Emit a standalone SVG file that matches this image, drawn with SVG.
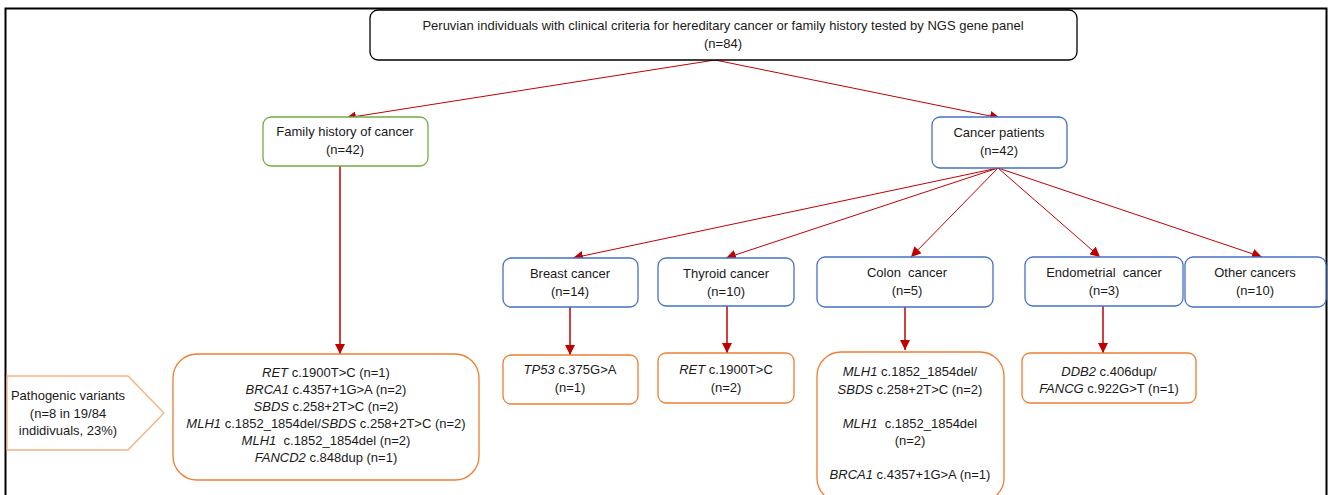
<svg xmlns="http://www.w3.org/2000/svg" width="1328" height="495" viewBox="0 0 1328 495">
<defs>
<marker id="ah" viewBox="0 0 10 10" refX="10" refY="5" markerWidth="10" markerHeight="10" markerUnits="userSpaceOnUse" orient="auto">
<path d="M0,0 L10,5 L0,10 z" fill="#C00000"/>
</marker>
<marker id="ahv" viewBox="0 0 10 10" refX="10" refY="5" markerWidth="7" markerHeight="7" orient="auto">
<path d="M0,0 L10,5 L0,10 z" fill="#C00000"/>
</marker>
</defs>
<style>
text{font-family:"Liberation Sans",Arial,sans-serif;font-size:13px;fill:#1a1a1a;text-anchor:middle}
.i{font-style:italic}
.blk{fill:#fff;stroke:#000;stroke-width:1.3}
.grn{fill:#fff;stroke:#70AD47;stroke-width:1.3}
.blu{fill:#fff;stroke:#4472C4;stroke-width:1.3}
.org{fill:#fff;stroke:#ED7D31;stroke-width:1.3}
.c{stroke:#C00000;stroke-width:1;fill:none}
.v{stroke:#C00000;stroke-width:1.5;fill:none}
</style>
<rect x="0" y="0" width="1328" height="495" fill="#fff"/>
<path d="M5.5,495 V8.5 H1326.5 V495" fill="none" stroke="#000" stroke-width="2"/>
<g id="connectors">
<line class="c" x1="715" y1="60" x2="346" y2="118" marker-end="url(#ah)"/>
<line class="c" x1="715" y1="60" x2="1000" y2="118" marker-end="url(#ah)"/>
<line class="v" x1="340" y1="166" x2="340" y2="354" marker-end="url(#ahv)"/>
<line class="c" x1="998" y1="168" x2="573" y2="258" marker-end="url(#ah)"/>
<line class="c" x1="998" y1="168" x2="726" y2="258" marker-end="url(#ah)"/>
<line class="c" x1="998" y1="168" x2="911" y2="257" marker-end="url(#ah)"/>
<line class="c" x1="998" y1="168" x2="1100" y2="257" marker-end="url(#ah)"/>
<line class="c" x1="998" y1="168" x2="1262" y2="257" marker-end="url(#ah)"/>
<line class="v" x1="570" y1="307" x2="570" y2="355" marker-end="url(#ahv)"/>
<line class="v" x1="727" y1="306" x2="727" y2="353" marker-end="url(#ahv)"/>
<line class="v" x1="905" y1="307" x2="905" y2="350" marker-end="url(#ahv)"/>
<line class="v" x1="1103" y1="306" x2="1103" y2="353" marker-end="url(#ahv)"/>
</g>
<g id="root">
<rect class="blk" x="370" y="10" width="707" height="50" rx="8"/>
<text x="723" y="30">Peruvian individuals with clinical criteria for hereditary cancer or family history tested by NGS gene panel</text>
<text x="723" y="48">(n=84)</text>
</g>
<g id="family">
<rect class="grn" x="263" y="117" width="165" height="49" rx="8"/>
<text x="345" y="136">Family history of cancer</text>
<text x="345" y="154">(n=42)</text>
</g>
<g id="patients">
<rect class="blu" x="932" y="117" width="135" height="51" rx="8"/>
<text x="999" y="137">Cancer patients</text>
<text x="999" y="155">(n=42)</text>
</g>
<g id="breast">
<rect class="blu" x="503" y="258" width="135" height="49" rx="8"/>
<text x="570" y="278">Breast cancer</text>
<text x="570" y="296">(n=14)</text>
</g>
<g id="thyroid">
<rect class="blu" x="658" y="258" width="136" height="48" rx="8"/>
<text x="726" y="278">Thyroid cancer</text>
<text x="726" y="296">(n=10)</text>
</g>
<g id="colon">
<rect class="blu" x="817" y="257" width="176" height="50" rx="8"/>
<text x="907" y="277">Colon&#160; cancer</text>
<text x="907" y="295">(n=5)</text>
</g>
<g id="endometrial">
<rect class="blu" x="1025" y="257" width="158" height="49" rx="8"/>
<text x="1104" y="277">Endometrial&#160; cancer</text>
<text x="1104" y="295">(n=3)</text>
</g>
<g id="other">
<rect class="blu" x="1185" y="257" width="141" height="50" rx="8"/>
<text x="1255" y="277">Other cancers</text>
<text x="1255" y="295">(n=10)</text>
</g>
<g id="pathogenic">
<polygon points="7,376 128,376 164,413 128,450 7,450" fill="#fff" stroke="#F4B183" stroke-width="1.3"/>
<text x="68" y="400">Pathogenic variants</text>
<text x="68" y="418">(n=8 in 19/84</text>
<text x="68" y="435">indidivuals, 23%)</text>
</g>
<g id="family-variants">
<rect class="org" x="173" y="354" width="306" height="126" rx="24"/>
<text x="326" y="377"><tspan class="i">RET</tspan> c.1900T&gt;C (n=1)</text>
<text x="326" y="394"><tspan class="i">BRCA1</tspan> c.4357+1G&gt;A (n=2)</text>
<text x="326" y="411"><tspan class="i">SBDS</tspan> c.258+2T&gt;C (n=2)</text>
<text x="326" y="428"><tspan class="i">MLH1</tspan> c.1852_1854del/<tspan class="i">SBDS</tspan> c.258+2T&gt;C (n=2)</text>
<text x="326" y="445"><tspan class="i">MLH1</tspan>&#160; c.1852_1854del (n=2)</text>
<text x="326" y="462"><tspan class="i">FANCD2</tspan> c.848dup (n=1)</text>
</g>
<g id="breast-variants">
<rect class="org" x="503" y="355" width="135" height="49" rx="8"/>
<text x="570" y="374"><tspan class="i">TP53</tspan> c.375G&gt;A</text>
<text x="570" y="392">(n=1)</text>
</g>
<g id="thyroid-variants">
<rect class="org" x="658" y="353" width="136" height="50" rx="8"/>
<text x="726" y="374"><tspan class="i">RET</tspan> c.1900T&gt;C</text>
<text x="726" y="392">(n=2)</text>
</g>
<g id="colon-variants">
<rect class="org" x="817" y="352" width="187" height="150" rx="24"/>
<text x="910" y="376"><tspan class="i">MLH1</tspan> c.1852_1854del/</text>
<text x="910" y="394"><tspan class="i">SBDS</tspan> c.258+2T&gt;C (n=2)</text>
<text x="910" y="428"><tspan class="i">MLH1</tspan>&#160; c.1852_1854del</text>
<text x="910" y="445">(n=2)</text>
<text x="910" y="479"><tspan class="i">BRCA1</tspan> c.4357+1G&gt;A (n=1)</text>
</g>
<g id="endometrial-variants">
<rect class="org" x="1022" y="353" width="174" height="50" rx="8"/>
<text x="1109" y="376"><tspan class="i">DDB2</tspan> c.406dup/</text>
<text x="1109" y="393"><tspan class="i">FANCG</tspan> c.922G&gt;T (n=1)</text>
</g>
</svg>
